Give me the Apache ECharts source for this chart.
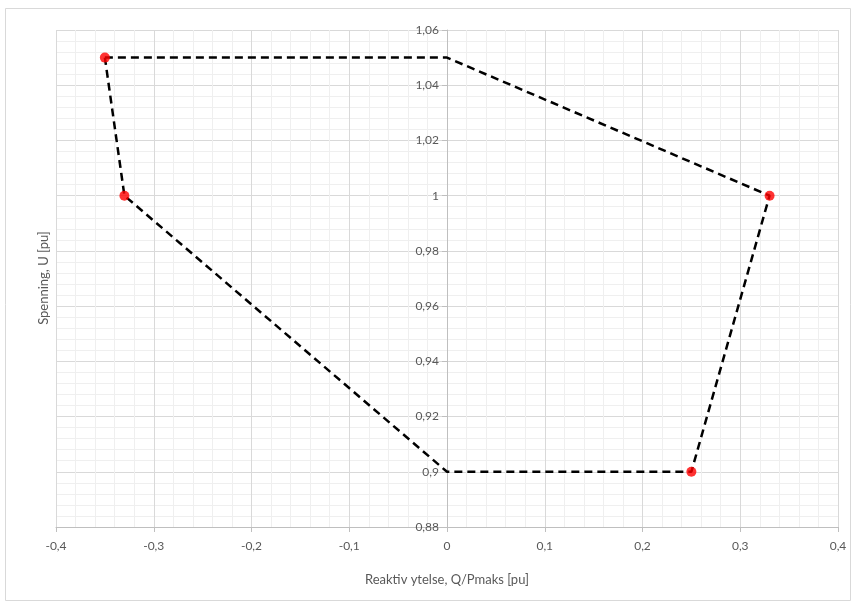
<!DOCTYPE html>
<html><head><meta charset="utf-8">
<script src="https://cdn.jsdelivr.net/npm/echarts@6/dist/echarts.min.js"></script>
<style>html,body{margin:0;padding:0;background:#fff}#c{width:856px;height:605px}</style>
</head><body><div id="c"></div>
<script>
// Boundary polygon (Q/Pmaks, U)
const boundaryQ = [-0.35, 0, 0.33, 0.25, 0, -0.33, -0.35];
const boundaryU = [1.05, 1.05, 1.0, 0.9, 0.9, 1.0, 1.05];
// Red marker points
const pointQ = [-0.35, -0.33, 0.33, 0.25];
const pointU = [1.05, 1.0, 1.0, 0.9];
// Axis settings
const xMin = -0.4, xMax = 0.4, xStep = 0.1;
const yMin = 0.88, yMax = 1.06, yStep = 0.02;
const xTitle = 'Reaktiv ytelse, Q/Pmaks [pu]';
const yTitle = 'Spenning, U [pu]';

const fmt = v => parseFloat(Number(v).toFixed(2)).toString().replace('.', ',');
const font = 'Lato, "Open Sans", sans-serif';
const txt = '#595959';
const gridLeft = 56, gridRight = 18;
const plotW = 856 - gridLeft - gridRight;

const chart = echarts.init(document.getElementById('c'));
chart.setOption({
  animation: false,
  backgroundColor: '#fff',
  graphic: [
    {type: 'rect', shape: {x: 5.5, y: 8.5, width: 845, height: 592}, style: {fill: 'none', stroke: '#d9d9d9', lineWidth: 1}},
    {type: 'text', rotation: Math.PI / 2, x: 44, y: 278,
     style: {text: yTitle, fill: txt, font: '13px ' + font, textAlign: 'center', textVerticalAlign: 'middle'}}
  ],
  grid: {left: gridLeft, right: gridRight, top: 30, bottom: 78, containLabel: false},
  xAxis: {
    type: 'value', min: xMin, max: xMax, interval: xStep,
    name: xTitle, nameLocation: 'middle', nameGap: 46,
    nameTextStyle: {color: txt, fontSize: 13, fontFamily: font},
    axisLine: {onZero: false, lineStyle: {color: '#bfbfbf'}},
    axisTick: {show: true, length: 5, lineStyle: {color: '#bfbfbf'}},
    axisLabel: {color: txt, fontSize: 12, fontFamily: font, margin: 13, formatter: fmt},
    splitLine: {show: true, lineStyle: {color: '#d9d9d9'}},
    minorTick: {show: false, splitNumber: 5},
    minorSplitLine: {show: true, lineStyle: {color: '#efefef'}}
  },
  yAxis: {
    type: 'value', min: yMin, max: yMax, interval: yStep,
    offset: -plotW * (0 - xMin) / (xMax - xMin),
    axisLine: {onZero: false, lineStyle: {color: '#bfbfbf'}},
    axisTick: {show: true, length: 5, lineStyle: {color: '#bfbfbf'}},
    axisLabel: {color: txt, fontSize: 12, fontFamily: font, margin: 8, formatter: fmt},
    splitLine: {show: true, lineStyle: {color: '#d9d9d9'}},
    minorTick: {show: false, splitNumber: 5},
    minorSplitLine: {show: true, lineStyle: {color: '#efefef'}}
  },
  series: [
    {type: 'line', data: boundaryQ.map((q, i) => [q, boundaryU[i]]), showSymbol: false, symbol: 'none',
     lineStyle: {color: '#000', width: 2.5, type: [8, 5]}, z: 3},
    {type: 'scatter', data: pointQ.map((q, i) => [q, pointU[i]]), symbol: 'circle', symbolSize: 10,
     itemStyle: {color: '#ff0000'}, z: 4}
  ]
});
</script></body></html>
